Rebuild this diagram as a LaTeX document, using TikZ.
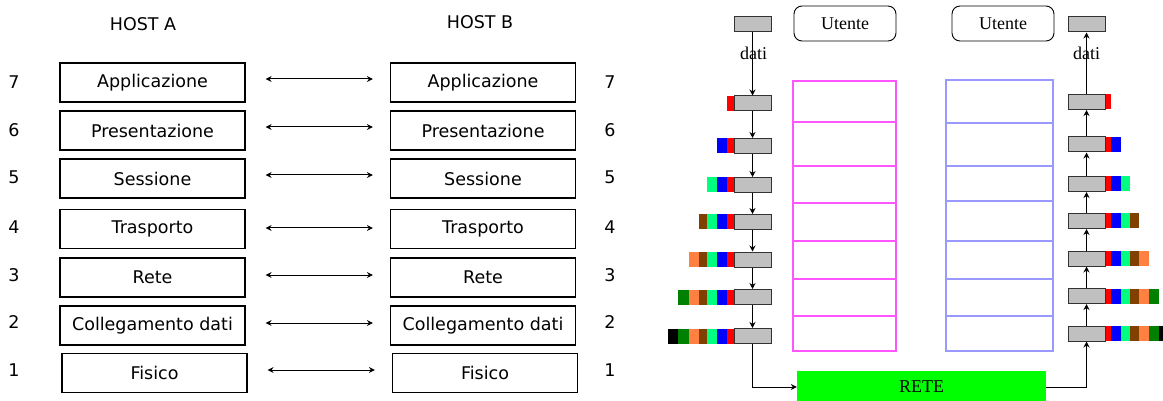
\documentclass[tikz,border=0pt]{standalone}
\usepackage{fontspec}
\setmainfont{DejaVu Sans}
\newfontfamily\serifr{Liberation Serif}
\usetikzlibrary{arrows.meta}
\definecolor{cmint}{HTML}{00FF80}
\definecolor{cbrown}{HTML}{804000}
\definecolor{corange}{HTML}{FF8040}
\definecolor{cdkgreen}{HTML}{008000}
\definecolor{cpink}{HTML}{FF55FF}
\definecolor{clblue}{HTML}{9999FF}
\definecolor{cgray}{HTML}{C0C0C0}
\definecolor{cgreen}{HTML}{00FF00}
\begin{document}
\begin{tikzpicture}[x=1pt,y=-1pt,
  layer/.style={draw, line width=1.2pt, minimum width=185pt, minimum height=39pt, inner sep=0pt, font=\fontsize{17.5}{20}\selectfont},
  lbl/.style={font=\fontsize{17.5}{20}\selectfont, inner sep=0pt},
  peer/.style={{Stealth[length=6pt,width=6pt]}-{Stealth[length=6pt,width=6pt]}, line width=1pt},
  pkt/.style={draw=black!80, fill=cgray, line width=1pt, minimum width=37pt, minimum height=15pt, inner sep=0pt},
  flow/.style={-{Stealth[length=6pt,width=6pt]}, line width=1pt},
  ser/.style={font=\serifr\fontsize{18}{20}\selectfont, inner sep=0pt},
  user/.style={draw, rounded corners=8pt, minimum width=102pt, minimum height=35pt, line width=0.9pt, inner sep=0pt, font=\serifr\fontsize{18}{20}\selectfont},
]
\useasboundingbox (0,0) rectangle (1163,401);

% ---- OSI model (left) ----
\node[lbl] (ha) at (143,24) {HOST A};
\node[lbl] (hb) at (480,22) {HOST B};
\foreach \n/\t/\y/\xa/\xb/\ny/\dy in {
  7/Applicazione/82.5/152.5/483/82/3.5,
  6/Presentazione/130.5/152.5/483/130/3.5,
  5/Sessione/178.5/152.5/483/177/3.5,
  4/Trasporto/229/152.5/483/227/1,
  3/Rete/277.5/152.5/483/275/2.5,
  2/Collegamento dati/325.5/152.5/483/322/2.5,
  1/Fisico/373/154.5/485/370/3}{
  \node[layer] (a\n) at (\xa,\y) {\t};
  \node[layer] (b\n) at (\xb,\y) {\t};
  \node[lbl] (na\n) at (14,\ny) {\n};
  \node[lbl] (nb\n) at (610,\ny) {\n};
  \draw[peer] ([xshift=20pt,yshift=\dy pt]a\n.east) -- ([xshift=-17pt,yshift=\dy pt]b\n.west);
}

% ---- encapsulation (right) ----
\node[user] (ua) at (845,23.5) {Utente};
\node[user] (ub) at (1003,23.5) {Utente};

\draw[cpink, line width=1.3pt] (793,81) rectangle (896,351);
\foreach \y in {122,166,203,241,279,316} \draw[cpink, line width=1.3pt] (793,\y) -- (896,\y);
\draw[clblue, line width=1.3pt] (946,80) rectangle (1053,351);
\foreach \y in {123,166,201,241,279,316} \draw[clblue, line width=1.3pt] (946,\y) -- (1053,\y);

\node[pkt] (lt) at (752.5,24.5) {};
\node[pkt] (rt) at (1086.5,24.5) {};

\foreach \i/\y in {1/103.5,2/146,3/185,4/222,5/259.5,6/297,7/336}{
  \foreach \c/\xa/\xb [count=\j] in {red/727.3/733.5, blue/717.3/727.3, cmint/706.7/717.3, cbrown/699.3/706.7, corange/689.3/699.3, cdkgreen/678.3/689.3, black/668.3/678.3}{
    \ifnum\j>\i\relax\else \fill[\c] (\xa,\y-7.5) rectangle (\xb,\y+7.5);\fi
  }
  \node[pkt] (l\i) at (752.5,\y) {};
}
\foreach \i/\y in {1/102,2/144.5,3/184,4/221,5/258.5,6/296,7/333.5}{
  \foreach \c/\xa/\xb [count=\j] in {red/1105/1110.5, blue/1110.5/1120.7, cmint/1120.7/1130, cbrown/1130/1138.7, corange/1138.7/1148.7, cdkgreen/1148.7/1159.3, black/1159.3/1163}{
    \ifnum\j>\i\relax\else \fill[\c] (\xa,\y-7.5) rectangle (\xb,\y+7.5);\fi
  }
  \node[pkt] (r\i) at (1086.5,\y) {};
}

\node[ser] (dl) at (753.5,53) {dati};
\node[ser] (dr) at (1086.5,53) {dati};

\node[fill=cgreen, minimum width=249pt, minimum height=32pt, inner sep=0pt, font=\serifr\fontsize{18}{20}\selectfont] (rete) at (921.5,387) {RETE};

\draw[flow] (lt) -- (l1);
\foreach \i/\j in {1/2,2/3,3/4,4/5,5/6,6/7} \draw[flow] (l\i) -- (l\j);
\draw[flow] (l7.south) |- (rete.west);
\draw[flow] (rete.east) -| (r7.south);
\foreach \i/\j in {7/6,6/5,5/4,4/3,3/2,2/1} \draw[flow] (r\i) -- (r\j);
\draw[flow] (r1) -- (rt);
\end{tikzpicture}
\end{document}
